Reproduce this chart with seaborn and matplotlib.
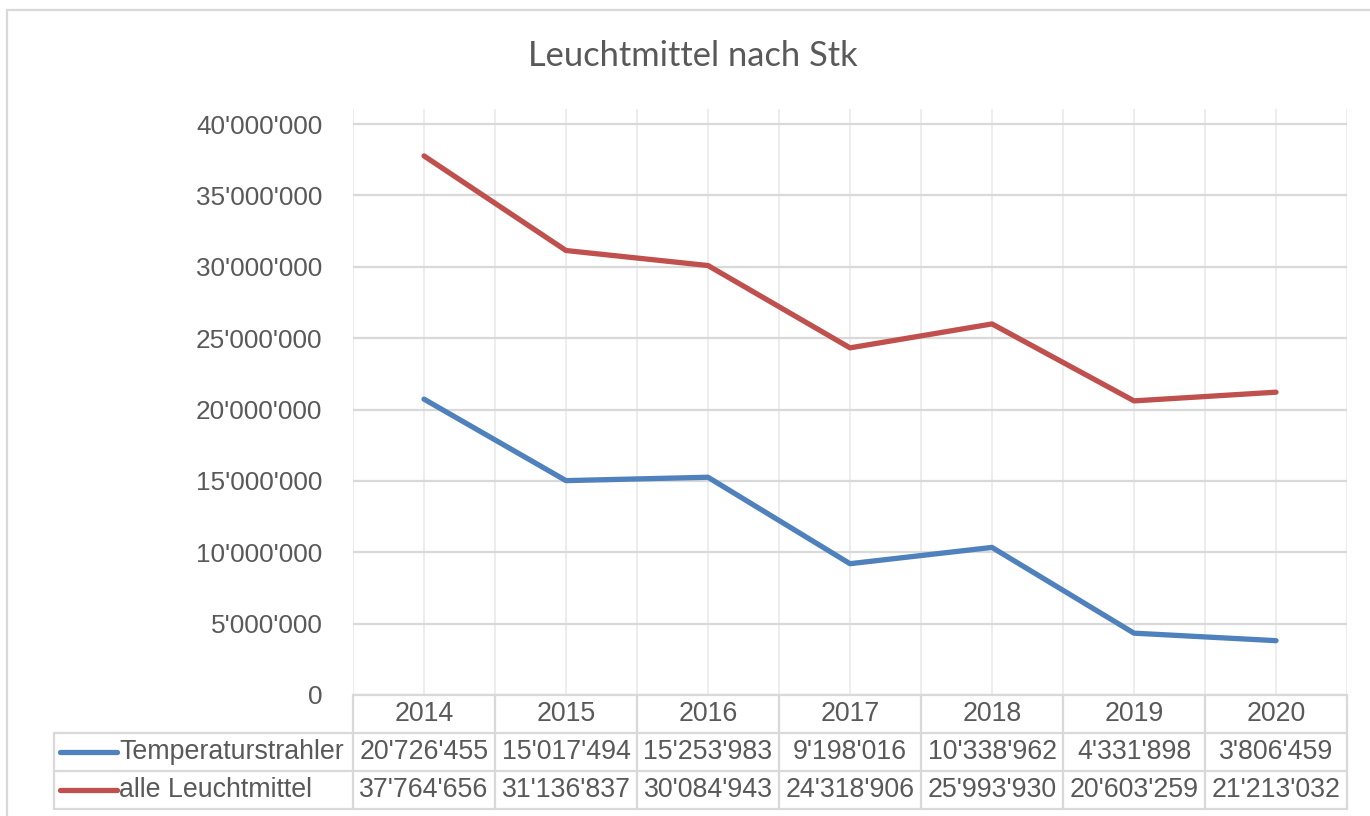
import numpy as np
import pandas as pd
import matplotlib
matplotlib.use("Agg")
import matplotlib.pyplot as plt
import seaborn as sns
from matplotlib.patches import Rectangle
from matplotlib.lines import Line2D

# ---- data ----
years = [2014, 2015, 2016, 2017, 2018, 2019, 2020]
temperaturstrahler = [20726455, 15017494, 15253983, 9198016, 10338962, 4331898, 3806459]
alle_leuchtmittel = [37764656, 31136837, 30084943, 24318906, 25993930, 20603259, 21213032]
series_names = ["Temperaturstrahler", "alle Leuchtmittel"]
colors = ["#4F81BD", "#C0504D"]
yticks = [0, 5000000, 10000000, 15000000, 20000000, 25000000, 30000000, 35000000, 40000000]
title = "Leuchtmittel nach Stk"

def fmt(v):
    return f"{int(v):,}".replace(",", "'")

df = pd.DataFrame({
    "year": years * 2,
    "value": temperaturstrahler + alle_leuchtmittel,
    "series": [series_names[0]] * len(years) + [series_names[1]] * len(years),
})

sns.set_style("white")
plt.rcParams["font.family"] = ["Liberation Sans", "DejaVu Sans"]
TXT = "#595959"
GRID = "#d9d9d9"
VGRID = "#ececec"

W, H = 1370, 816
fig = plt.figure(figsize=(W / 100, H / 100), dpi=100)

def px(x0, y0, x1, y1):
    return [x0 / W, 1 - y1 / H, (x1 - x0) / W, (y1 - y0) / H]

# outer chart border
fig.add_artist(Rectangle((7 / W, -0.1), 2.0, 1 - 10 / H + 0.1, transform=fig.transFigure,
                         fill=False, edgecolor=GRID, lw=1.6, clip_on=False))

# main axes
ax = fig.add_axes(px(353, 109, 1347, 695))
sns.lineplot(data=df, x="year", y="value", hue="series", palette=colors,
             linewidth=3.8, ax=ax, legend=False, estimator=None)
xmin, xmax = years[0] - 0.5, years[-1] + 0.5
ax.set_xlim(xmin, xmax)
ymax = 40000000 * (695 - 109) / (695 - 124)
ax.set_ylim(0, ymax)
for s in ax.spines.values():
    s.set_visible(False)
# vertical gridlines every half category
for xv in np.arange(xmin, xmax + 0.01, 0.5):
    ax.axvline(xv, color=VGRID, lw=1.3, zorder=0)
for yv in yticks:
    ax.axhline(yv, xmin=0, xmax=1, color=GRID, lw=1.6, zorder=0.5)
ax.set_yticks(yticks)
ax.set_yticklabels([fmt(v) for v in yticks], fontsize=18.8, color=TXT)
ax.tick_params(axis="y", length=0, pad=22)
ax.set_xticks([])
ax.set_xlabel("")
ax.set_ylabel("")

# title
fig.text(693 / W, 1 - 56 / H, title, ha="center", va="center", fontsize=24.8,
         color=TXT, family=["Lato", "DejaVu Sans"])

# data table
TFS = 19.3
tax = fig.add_axes(px(54, 695, 1347, 809))
upp = (xmax - xmin) / (1347 - 353)
tleft = xmin - (353 - 54) * upp
tax.set_xlim(tleft, xmax)
row_h = [0, 38, 76, 114]
tax.set_ylim(114, 0)
tax.axis("off")
tax.plot([xmin, xmax], [0, 0], color=GRID, lw=1.6, clip_on=False)
for yv in row_h[1:]:
    tax.plot([tleft, xmax], [yv, yv], color=GRID, lw=1.6, clip_on=False)
tax.plot([tleft, tleft], [row_h[1], row_h[3]], color=GRID, lw=1.6, clip_on=False)
for xv in np.arange(xmin, xmax + 0.01, 1.0):
    tax.plot([xv, xv], [0, row_h[3]], color=GRID, lw=1.6, clip_on=False)
for yr in years:
    tax.text(yr, 19, str(yr), ha="center", va="center", fontsize=TFS, color=TXT)
rows = [temperaturstrahler, alle_leuchtmittel]
for i, (name, vals, c) in enumerate(zip(series_names, rows, colors)):
    yc = (row_h[i + 1] + row_h[i + 2]) / 2
    tax.add_line(Line2D([xmin - (353 - 60) * upp, xmin - (353 - 117) * upp], [yc, yc],
                        color=c, lw=3.8, solid_capstyle="round"))
    tax.text(xmin - (353 - 119) * upp, yc, name, ha="left", va="center",
             fontsize=TFS, color=TXT)
    for yr, v in zip(years, vals):
        tax.text(yr, yc, fmt(v), ha="center", va="center", fontsize=TFS, color=TXT)

fig.savefig("out.png", dpi=100)
